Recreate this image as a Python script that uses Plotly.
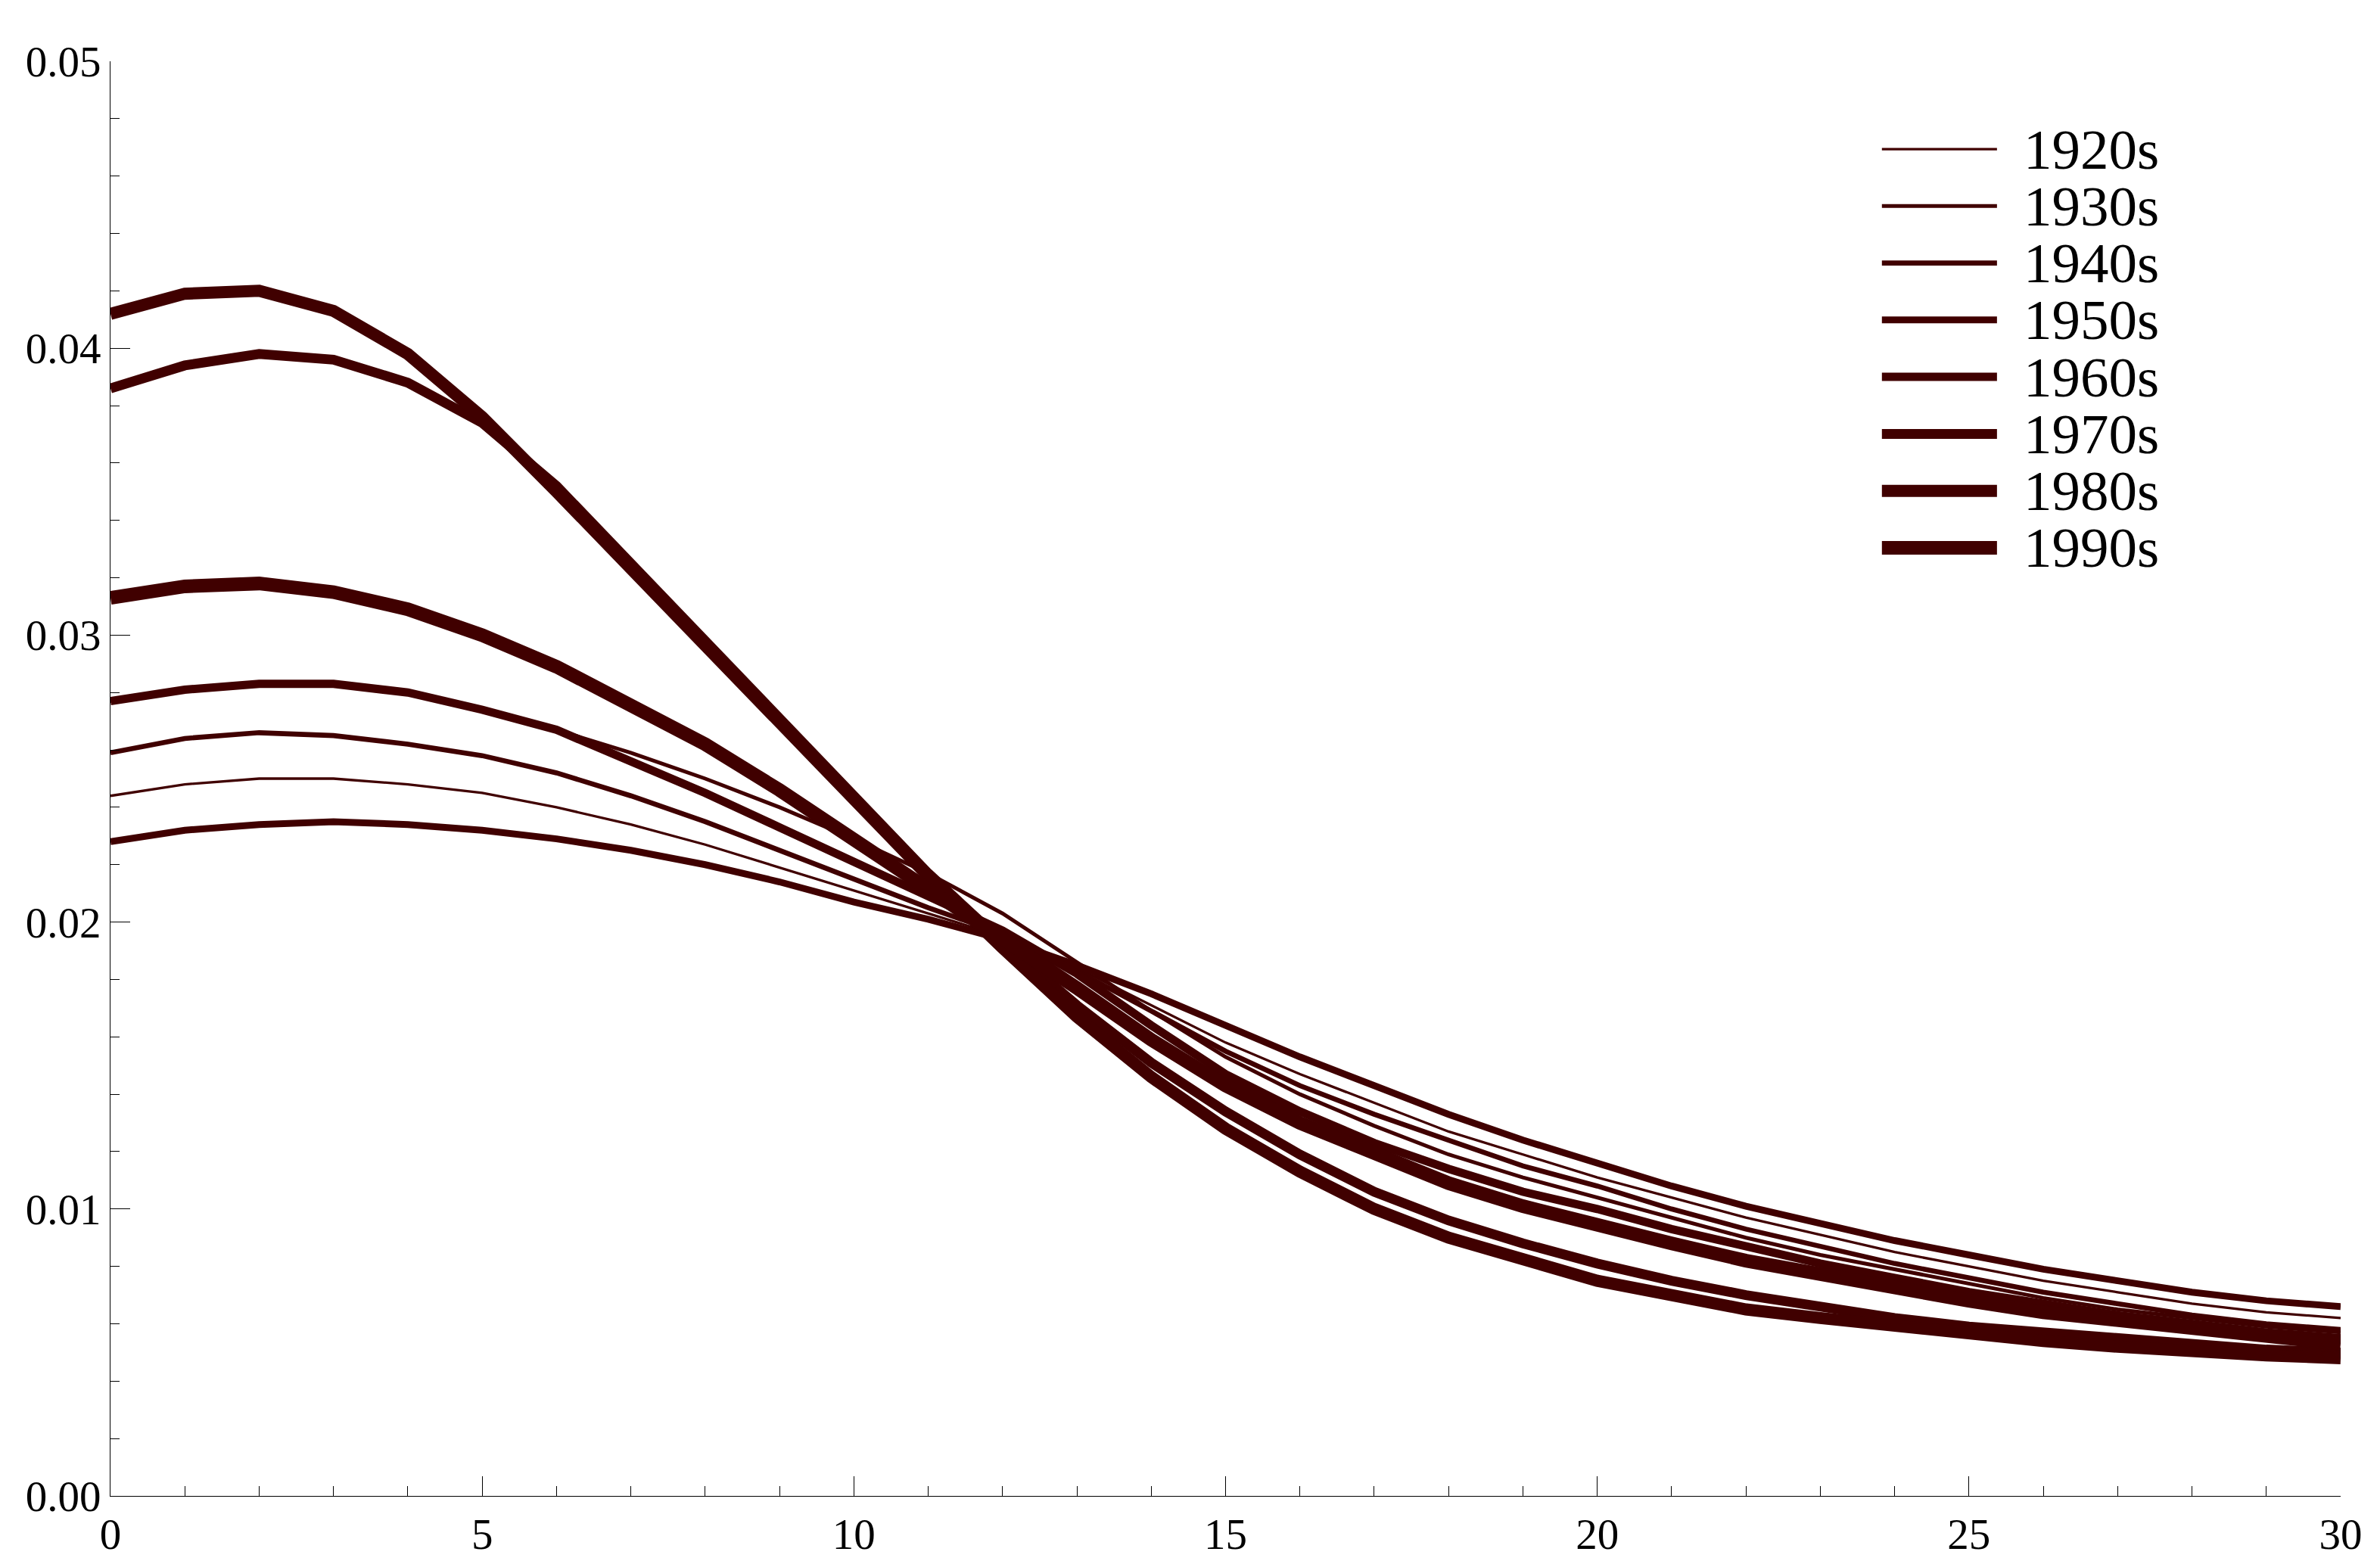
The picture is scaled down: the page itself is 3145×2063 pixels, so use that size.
import plotly.graph_objects as go

# data
decades = ["1920s", "1930s", "1940s", "1950s", "1960s", "1970s", "1980s", "1990s"]
age = list(range(0, 31))

d1920 = [0.0244, 0.0248, 0.0250, 0.0250, 0.0248, 0.0245, 0.0240, 0.0234, 0.0227, 0.0219,
         0.0211, 0.0203, 0.0195, 0.0184, 0.0171, 0.0158, 0.0147, 0.0137, 0.0127, 0.0119,
         0.0111, 0.0104, 0.0097, 0.0091, 0.0085, 0.0080, 0.0075, 0.0071, 0.0067, 0.0064, 0.0062]
d1930 = [0.0277, 0.0281, 0.0283, 0.0283, 0.0280, 0.0274, 0.0267, 0.0259, 0.0250, 0.0240,
         0.0229, 0.0217, 0.0203, 0.0186, 0.0169, 0.0153, 0.0140, 0.0129, 0.0119, 0.0111,
         0.0104, 0.0097, 0.0090, 0.0084, 0.0079, 0.0074, 0.0069, 0.0065, 0.0062, 0.0059, 0.0057]
d1940 = [0.0259, 0.0264, 0.0266, 0.0265, 0.0262, 0.0258, 0.0252, 0.0244, 0.0235, 0.0225,
         0.0215, 0.0205, 0.0196, 0.0183, 0.0169, 0.0155, 0.0143, 0.0133, 0.0124, 0.0115,
         0.0108, 0.0100, 0.0093, 0.0087, 0.0081, 0.0076, 0.0071, 0.0067, 0.0063, 0.0060, 0.0058]
d1950 = [0.0228, 0.0232, 0.0234, 0.0235, 0.0234, 0.0232, 0.0229, 0.0225, 0.0220, 0.0214,
         0.0207, 0.0201, 0.0194, 0.0185, 0.0175, 0.0164, 0.0153, 0.0143, 0.0133, 0.0124,
         0.0116, 0.0108, 0.0101, 0.0095, 0.0089, 0.0084, 0.0079, 0.0075, 0.0071, 0.0068, 0.0066]
d1960 = [0.0277, 0.0281, 0.0283, 0.0283, 0.0280, 0.0274, 0.0267, 0.0256, 0.0245, 0.0233,
         0.0221, 0.0209, 0.0197, 0.0182, 0.0164, 0.0147, 0.0134, 0.0123, 0.0114, 0.0106,
         0.0100, 0.0093, 0.0087, 0.0081, 0.0076, 0.0071, 0.0067, 0.0063, 0.0060, 0.0057, 0.0055]
d1970 = [0.0386, 0.0394, 0.0398, 0.0396, 0.0388, 0.0374, 0.0352, 0.0325, 0.0298, 0.0270,
         0.0243, 0.0217, 0.0193, 0.0171, 0.0151, 0.0134, 0.0119, 0.0106, 0.0096, 0.0088,
         0.0081, 0.0075, 0.0070, 0.0066, 0.0062, 0.0059, 0.0057, 0.0055, 0.0053, 0.0051, 0.0050]
d1980 = [0.0412, 0.0419, 0.0420, 0.0413, 0.0398, 0.0376, 0.0350, 0.0323, 0.0297, 0.0270,
         0.0243, 0.0216, 0.0191, 0.0167, 0.0146, 0.0128, 0.0113, 0.0100, 0.0090, 0.0082,
         0.0075, 0.0070, 0.0065, 0.0062, 0.0059, 0.0056, 0.0054, 0.0052, 0.0050, 0.0049, 0.0048]
d1990 = [0.0313, 0.0317, 0.0318, 0.0315, 0.0309, 0.0300, 0.0289, 0.0276, 0.0262, 0.0246,
         0.0229, 0.0212, 0.0195, 0.0177, 0.0159, 0.0143, 0.0130, 0.0119, 0.0109, 0.0101,
         0.0094, 0.0088, 0.0082, 0.0077, 0.0072, 0.0068, 0.0064, 0.0061, 0.0058, 0.0055, 0.0053]

series = [d1920, d1930, d1940, d1950, d1960, d1970, d1980, d1990]
widths = [3.3, 5, 6.6, 9, 11, 13, 16, 18]
col = "#400000"

fig = go.Figure()
for name, ys, w in zip(decades, series, widths):
    fig.add_trace(go.Scatter(x=age, y=ys, name=name, mode="lines",
                             line=dict(color=col, width=w), showlegend=False))

# hand-made legend (long line samples like the original)
for i, (name, w) in enumerate(zip(decades, widths)):
    yy = 0.9388 - i * 0.0397
    fig.add_shape(type="line", xref="paper", yref="paper",
                  x0=0.7943, x1=0.8459, y0=yy, y1=yy,
                  line=dict(color=col, width=w))
    fig.add_annotation(xref="paper", yref="paper", x=0.857, y=yy, text=name,
                       showarrow=False, xanchor="left", yanchor="middle",
                       font=dict(family="Liberation Serif", size=75, color="black"))

axis_common = dict(showline=True, linecolor="black", linewidth=1.2,
                   ticks="inside", ticklen=26, tickwidth=1.2, tickcolor="black",
                   showgrid=False, zeroline=False,
                   tickfont=dict(family="Liberation Serif", size=57, color="black"))

fig.update_xaxes(range=[0, 30], dtick=5, tick0=0,
                 minor=dict(dtick=1, ticks="inside", ticklen=13, tickwidth=1.2, tickcolor="black"),
                 **axis_common)
fig.update_yaxes(range=[0, 0.05], dtick=0.01, tick0=0, tickformat=".2f",
                 minor=dict(dtick=0.002, ticks="inside", ticklen=12, tickwidth=1.2, tickcolor="black"),
                 **axis_common)

fig.update_layout(width=3145, height=2063,
                  margin=dict(l=138, r=60, t=73, b=89),
                  plot_bgcolor="white", paper_bgcolor="white",
                  font_family="Liberation Serif")

fig.write_html("out.html")
